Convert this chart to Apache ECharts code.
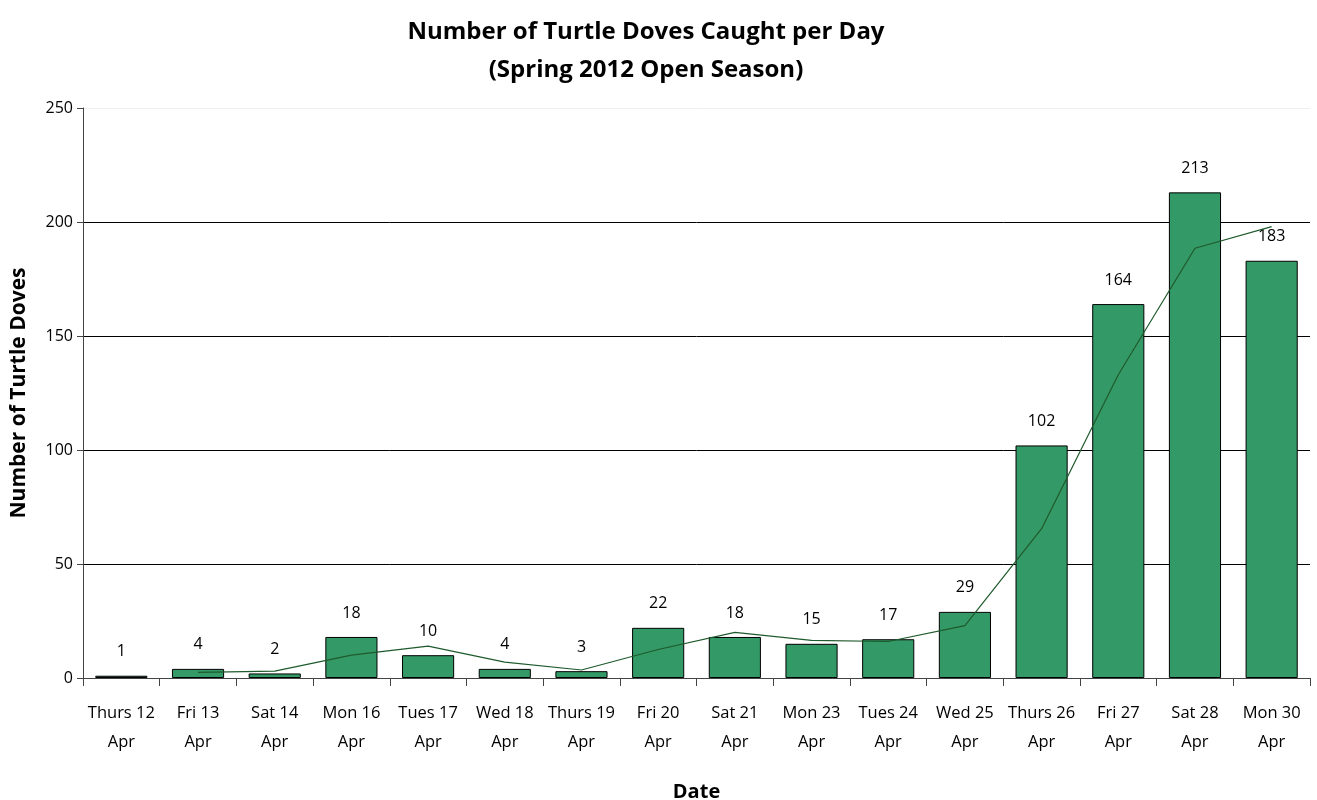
<!DOCTYPE html>
<html>
<head>
<meta charset="utf-8">
<script src="https://cdn.jsdelivr.net/npm/echarts@6/dist/echarts.min.js"></script>
<style>
  html, body { margin: 0; padding: 0; background: #fff; }
  #chart { width: 1317px; height: 800px; }
</style>
</head>
<body>
<div id="chart"></div>
<script>
// Days of the open season
const days = ['Thurs 12\nApr', 'Fri 13\nApr', 'Sat 14\nApr', 'Mon 16\nApr', 'Tues 17\nApr', 'Wed 18\nApr',
  'Thurs 19\nApr', 'Fri 20\nApr', 'Sat 21\nApr', 'Mon 23\nApr', 'Tues 24\nApr', 'Wed 25\nApr',
  'Thurs 26\nApr', 'Fri 27\nApr', 'Sat 28\nApr', 'Mon 30\nApr'];

// Turtle doves caught each day
const caught = [1, 4, 2, 18, 10, 4, 3, 22, 18, 15, 17, 29, 102, 164, 213, 183];

// Two-day moving average trend line (no value on the first day)
const trend = [null, 2.5, 3, 10, 14, 7, 3.5, 12.5, 20, 16.5, 16, 23, 65.5, 133, 188.5, 198];

// Value axis ticks
const yTicks = [0, 50, 100, 150, 200, 250];

const FONT = '"Open Sans", Lato, sans-serif';

const chart = echarts.init(document.getElementById('chart'), null, { renderer: 'canvas' });
chart.setOption({
  backgroundColor: '#fff',
  animation: false,
  textStyle: { fontFamily: FONT },
  title: {
    text: 'Number of Turtle Doves Caught per Day\n(Spring 2012 Open Season)',
    left: 641,
    textAlign: 'center',
    top: 8,
    textStyle: { fontFamily: FONT, fontSize: 24, fontWeight: 'bold', color: '#000', lineHeight: 38 }
  },
  grid: { left: 83, right: 7, top: 108, bottom: 122, containLabel: false, outerBoundsMode: 'none' },
  xAxis: {
    type: 'category',
    data: days,
    name: 'Date',
    nameLocation: 'middle',
    nameGap: 104,
    nameTextStyle: { fontFamily: FONT, fontSize: 20, fontWeight: 'bold', color: '#000' },
    axisLine: { lineStyle: { color: '#444', width: 1 } },
    axisTick: { show: true, alignWithLabel: false, length: 8, lineStyle: { color: '#444' } },
    axisLabel: { fontFamily: FONT, fontSize: 16.5, color: '#000', lineHeight: 29, margin: 21, interval: 0 },
    splitLine: { show: false }
  },
  yAxis: {
    type: 'value',
    min: 0,
    max: yTicks[yTicks.length - 1],
    interval: 50,
    name: 'Number of Turtle Doves',
    nameLocation: 'middle',
    nameGap: 53,
    nameTextStyle: { fontFamily: FONT, fontSize: 21, fontWeight: 'bold', color: '#000' },
    axisLine: { show: true, lineStyle: { color: '#444', width: 1 } },
    axisTick: { show: true, length: 6, lineStyle: { color: '#444' } },
    axisLabel: { fontFamily: FONT, fontSize: 16, color: '#000', margin: 10 },
    splitLine: { show: true, lineStyle: { color: ['#000', '#000', '#000', '#000', '#000', '#eeeeee'], width: 1 } }
  },
  series: [
    {
      name: 'Caught',
      type: 'bar',
      data: caught,
      barCategoryGap: '32%',
      itemStyle: { color: '#339966', borderColor: '#000', borderWidth: 1 },
      label: {
        show: true,
        position: 'top',
        distance: 16,
        fontFamily: FONT,
        fontSize: 16,
        color: '#000'
      },
      z: 2
    },
    {
      name: '2 per. Mov. Avg.',
      type: 'line',
      data: trend,
      symbol: 'none',
      connectNulls: false,
      lineStyle: { color: '#1f5a2c', width: 1.2 },
      z: 3
    }
  ]
});
</script>
</body>
</html>
